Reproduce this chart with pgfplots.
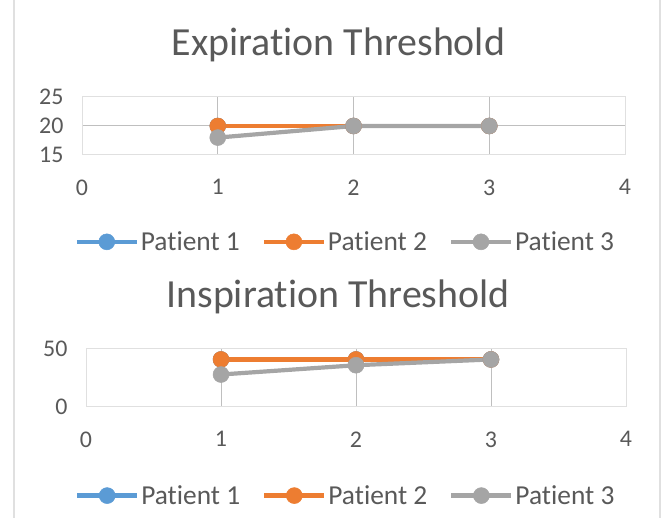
\documentclass[border=0pt]{standalone}
\usepackage{pgfplots}
\pgfplotsset{compat=1.18}
\usepackage{fontspec}
\setmainfont{Carlito}[Ligatures={NoCommon}]
\definecolor{pblue}{HTML}{5B9BD5}
\definecolor{porange}{HTML}{ED7D31}
\definecolor{pgray}{HTML}{A5A5A5}
\definecolor{txt}{HTML}{595959}
\definecolor{grid}{HTML}{E0E0E0}
\pgfplotstableread{
x e1 e2 e3 i1 i2 i3
1 20 20 18 41 41 28
2 20 20 20 41 41 36
3 20 20 20 41 41 41
}\data
\pgfplotsset{
  exstyle/.style={
    scale only axis, height=58bp,
    xmin=0, xmax=4, xtick={0,1,2,3,4},
    axis line style={grid, line width=1bp}, major grid style={grid, line width=1bp},
    xmajorgrids, ymajorgrids,
    tick style={draw=none},
    tick label style={font=\fontsize{24}{26}\selectfont, text=txt},
    /pgf/number format/assume math mode=true,
    xticklabel style={yshift=-21bp},
    yticklabel style={xshift=-15bp},
    title style={font=\fontsize{40}{44}\selectfont, text=txt, yshift=26bp},
    legend columns=3,
    legend style={draw=none, fill=none, font=\fontsize{27.5}{29}\selectfont, text=txt,
      anchor=north, /tikz/every even column/.append style={column sep=20bp}},
    legend image code/.code={\draw[mark repeat=2,mark phase=2,#1] plot coordinates {(0bp,0bp) (30bp,0bp) (60bp,0bp)};},
  },
  pl/.style={#1, line width=4.2bp, mark=*, mark size=8bp, mark options={fill=#1, line width=0.5bp}},
}
\begin{document}
\begin{tikzpicture}[x=1bp,y=1bp]
\useasboundingbox (0,0) rectangle (664,518);
\draw[grid, line width=1.4bp] (14,0) -- (14,518);
\draw[grid, line width=1.4bp] (660,0) -- (660,518);
\begin{axis}[exstyle, width=543bp, at={(82bp,363bp)}, anchor=south west,
  ymin=15, ymax=25, ytick={15,20,25},
  title={Expiration Threshold}, title style={xshift=-15bp},
  legend style={at={(0.485,-1.25)}}]
\addplot[pl=pblue] table[x=x,y=e1]{\data};
\addplot[pl=porange] table[x=x,y=e2]{\data};
\addplot[pl=pgray] table[x=x,y=e3]{\data};
\legend{Patient 1, Patient 2, Patient 3}
\end{axis}
\begin{axis}[exstyle, width=540bp, at={(86bp,111bp)}, anchor=south west,
  ymin=0, ymax=50, ytick={0,50},
  title={Inspiration Threshold}, title style={xshift=-18bp},
  legend style={at={(0.481,-1.28)}}]
\addplot[pl=pblue] table[x=x,y=i1]{\data};
\addplot[pl=porange] table[x=x,y=i2]{\data};
\addplot[pl=pgray] table[x=x,y=i3]{\data};
\legend{Patient 1, Patient 2, Patient 3}
\end{axis}
\end{tikzpicture}
\end{document}
